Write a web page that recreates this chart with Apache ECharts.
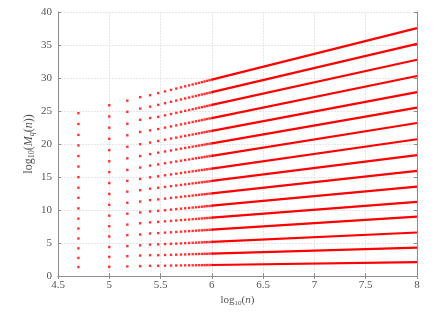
<!DOCTYPE html>
<html>
<head>
<meta charset="utf-8">
<script src="https://cdn.jsdelivr.net/npm/echarts@6/dist/echarts.min.js"></script>
<style>html,body{margin:0;padding:0;background:#fff}#c{width:436px;height:312px}</style>
</head>
<body>
<div id="c"></div>
<script>
// x = log10(n) for the individually visible sample points (n = 50000, 100000, ...)
const xSparse = [4.699,5.000,5.176,5.301,5.398,5.477,5.544,5.602,5.653,5.699,5.740,5.778,5.813,5.845,5.875,5.903,5.929,5.954,5.978,6.000];
// y = log10(M_q(n)) for each q row, read at the sparse x positions
const r1  = [1.35,1.39,1.45,1.50,1.54,1.55,1.56,1.58,1.59,1.60,1.61,1.62,1.62,1.63,1.64,1.64,1.65,1.66,1.66,1.67];
const r2  = [2.74,2.89,3.00,3.10,3.15,3.15,3.18,3.21,3.23,3.25,3.27,3.29,3.31,3.32,3.34,3.35,3.36,3.37,3.39,3.40];
const r3  = [4.19,4.39,4.54,4.64,4.75,4.79,4.84,4.88,4.91,4.95,4.98,5.01,5.03,5.05,5.08,5.10,5.12,5.13,5.15,5.17];
const r4  = [5.69,5.99,6.19,6.29,6.44,6.50,6.57,6.62,6.67,6.72,6.76,6.80,6.83,6.87,6.90,6.92,6.95,6.97,7.00,7.02];
const r5  = [7.19,7.54,7.79,7.99,8.13,8.20,8.28,8.35,8.41,8.47,8.52,8.56,8.61,8.65,8.68,8.72,8.75,8.78,8.81,8.84];
const r6  = [8.69,9.14,9.44,9.63,9.78,9.88,9.97,10.06,10.14,10.20,10.26,10.32,10.37,10.42,10.46,10.50,10.54,10.58,10.61,10.65];
const r7  = [10.24,10.79,11.09,11.28,11.49,11.61,11.73,11.83,11.92,11.99,12.07,12.13,12.19,12.25,12.30,12.35,12.39,12.43,12.48,12.51];
const r8  = [11.84,12.43,12.78,13.00,13.23,13.37,13.50,13.61,13.71,13.80,13.88,13.96,14.03,14.09,14.15,14.20,14.26,14.30,14.35,14.40];
const r9  = [13.38,14.08,14.42,14.70,14.95,15.11,15.26,15.39,15.50,15.60,15.70,15.78,15.86,15.93,16.00,16.06,16.12,16.17,16.23,16.27];
const r10 = [14.98,15.73,16.07,16.43,16.73,16.91,17.08,17.22,17.35,17.47,17.57,17.66,17.75,17.83,17.90,17.97,18.04,18.10,18.16,18.21];
const r11 = [16.58,17.38,17.83,18.17,18.47,18.69,18.87,19.02,19.16,19.29,19.40,19.50,19.60,19.68,19.76,19.84,19.91,19.98,20.04,20.10];
const r12 = [18.17,19.07,19.58,19.97,20.22,20.46,20.65,20.82,20.97,21.11,21.23,21.34,21.44,21.54,21.63,21.71,21.79,21.86,21.93,21.99];
const r13 = [19.78,20.78,21.32,21.83,22.07,22.26,22.48,22.66,22.82,22.97,23.10,23.22,23.34,23.44,23.53,23.62,23.71,23.79,23.86,23.93];
const r14 = [21.38,22.47,23.07,23.67,23.93,24.11,24.34,24.54,24.72,24.88,25.02,25.15,25.27,25.38,25.49,25.58,25.67,25.76,25.84,25.92];
const r15 = [23.03,24.17,24.87,25.37,25.66,25.93,26.18,26.39,26.58,26.75,26.90,27.04,27.17,27.28,27.39,27.50,27.59,27.68,27.77,27.85];
const r16 = [24.67,25.87,26.56,27.10,27.40,27.71,27.97,28.20,28.40,28.58,28.74,28.89,29.02,29.15,29.26,29.37,29.47,29.57,29.67,29.75];
const rows = [r1,r2,r3,r4,r5,r6,r7,r8,r9,r10,r11,r12,r13,r14,r15,r16];
// dense part (points merge into a line): from the last sparse x to x = 8
const denseEndX = 8.0;
const denseEnd = [2.10,4.30,6.59,8.99,11.24,13.55,15.93,18.32,20.72,23.18,25.51,27.87,30.31,32.76,35.16,37.56];
const xTicks = [4.5,5,5.5,6,6.5,7,7.5,8];
const yTicks = [0,5,10,15,20,25,30,35,40];

const RED = '#ff0000';
const FONT = 'Liberation Serif';
const TXT = '#555';
const series = [];
rows.forEach((row, k) => {
  series.push({
    type: 'scatter', symbol: 'rect', symbolSize: 2.4, silent: true,
    itemStyle: { color: RED },
    data: row.map((v, i) => [xSparse[i], v])
  });
  series.push({
    type: 'line', showSymbol: false, silent: true,
    lineStyle: { color: RED, width: 2.2 },
    data: [[xSparse[xSparse.length - 1], row[row.length - 1]], [denseEndX, denseEnd[k]]]
  });
});

const axisBase = {
  axisLine: { show: true, lineStyle: { color: '#8c8c8c', width: 1 } },
  axisTick: { show: true, inside: true, length: 3, lineStyle: { color: '#8c8c8c' } }
};
const chart = echarts.init(document.getElementById('c'), null, { renderer: 'canvas' });
chart.setOption({
  animation: false,
  backgroundColor: '#fff',
  grid: { left: 58, right: 19, top: 12, bottom: 33, containLabel: false },
  xAxis: [
    Object.assign({
      type: 'value', min: xTicks[0], max: xTicks[xTicks.length - 1], interval: 0.5,
      position: 'bottom',
      axisLabel: { color: TXT, fontFamily: FONT, fontSize: 11, margin: 4 },
      splitLine: { show: true, lineStyle: { color: '#e6e6e6', type: [2, 1] } },
      name: '{t|log}{s|10}{t|(}{i|n}{t|)}', nameLocation: 'middle', nameGap: 18, nameMoveOverlap: false,
      nameTextStyle: { rich: {
        t: { fontFamily: FONT, fontSize: 11, color: TXT },
        i: { fontFamily: FONT, fontSize: 11, color: TXT, fontStyle: 'italic' },
        s: { fontFamily: FONT, fontSize: 7, color: TXT, padding: [6, 0, 0, 0] }
      } }
    }, axisBase),
    Object.assign({
      type: 'value', min: xTicks[0], max: xTicks[xTicks.length - 1], interval: 0.5,
      position: 'top', axisLabel: { show: false }, splitLine: { show: false }
    }, axisBase)
  ],
  yAxis: [
    Object.assign({
      type: 'value', min: yTicks[0], max: yTicks[yTicks.length - 1], interval: 5,
      position: 'left',
      axisLabel: { color: TXT, fontFamily: FONT, fontSize: 11, margin: 6 },
      splitLine: { show: true, lineStyle: { color: '#e6e6e6', type: [2, 1] } },
      name: '{t|log}{s|10}{t|(}{i|M}{q|q}{t|(}{i|n}{t|))}', nameLocation: 'middle', nameGap: 22, nameRotate: 90, nameMoveOverlap: false,
      nameTextStyle: { rich: {
        t: { fontFamily: FONT, fontSize: 12, color: TXT },
        i: { fontFamily: FONT, fontSize: 12, color: TXT, fontStyle: 'italic' },
        s: { fontFamily: FONT, fontSize: 8, color: TXT, padding: [6, 0, 0, 0] },
        q: { fontFamily: FONT, fontSize: 8, color: TXT, fontStyle: 'italic', padding: [6, 0, 0, 0] }
      } }
    }, axisBase),
    Object.assign({
      type: 'value', min: yTicks[0], max: yTicks[yTicks.length - 1], interval: 5,
      position: 'right', axisLabel: { show: false }, splitLine: { show: false }
    }, axisBase)
  ],
  series: series
});
</script>
</body>
</html>
